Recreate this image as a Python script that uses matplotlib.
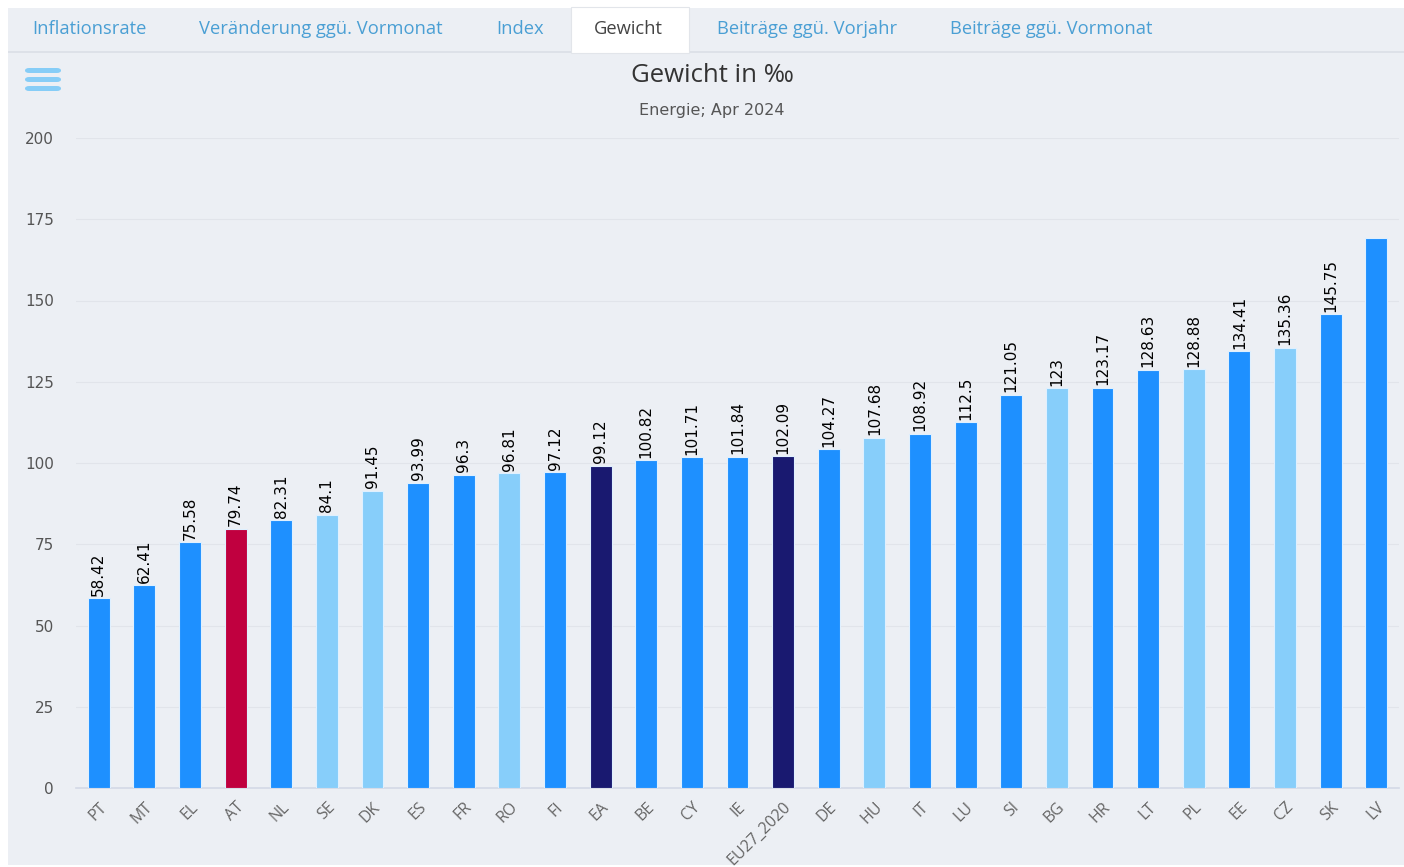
import matplotlib
matplotlib.use("Agg")
import matplotlib.pyplot as plt
from matplotlib.patches import Rectangle, FancyBboxPatch

plt.rcParams['font.family'] = ['Open Sans', 'DejaVu Sans']

countries = ["PT", "MT", "EL", "AT", "NL", "SE", "DK", "ES", "FR", "RO", "FI", "EA", "BE", "CY", "IE",
             "EU27_2020", "DE", "HU", "IT", "LU", "SI", "BG", "HR", "LT", "PL", "EE", "CZ", "SK", "LV"]
values = [58.42, 62.41, 75.58, 79.74, 82.31, 84.1, 91.45, 93.99, 96.3, 96.81, 97.12, 99.12, 100.82, 101.71,
          101.84, 102.09, 104.27, 107.68, 108.92, 112.5, 121.05, 123, 123.17, 128.63, 128.88, 134.41,
          135.36, 145.75, 169.3]
labels = ["58.42", "62.41", "75.58", "79.74", "82.31", "84.1", "91.45", "93.99", "96.3", "96.81", "97.12",
          "99.12", "100.82", "101.71", "101.84", "102.09", "104.27", "107.68", "108.92", "112.5", "121.05",
          "123", "123.17", "128.63", "128.88", "134.41", "135.36", "145.75", ""]
groups = ["b", "b", "b", "r", "b", "l", "l", "b", "b", "l", "b", "n", "b", "b", "b",
          "n", "b", "l", "b", "b", "b", "l", "b", "b", "l", "b", "l", "b", "b"]
yticks = [0, 25, 50, 75, 100, 125, 150, 175, 200]
tabs = ["Inflationsrate", "Veränderung ggü. Vormonat", "Index", "Gewicht",
        "Beiträge ggü. Vorjahr", "Beiträge ggü. Vormonat"]
tab_x = [32, 199, 496, 594, 717, 950]

palette = {"b": "#1e90ff", "l": "#87cefa", "n": "#191970", "r": "#c0003f"}
W, H = 1404, 867
fig = plt.figure(figsize=(W / 100, H / 100), dpi=100)
fig.patch.set_facecolor("white")

def px(x, y, w, h):
    return (x / W, 1 - (y + h) / H, w / W, h / H)

bg = "#eceff4"
x0, y0, w0, h0 = px(8, 8, W - 8, 44)
fig.patches.append(Rectangle((x0, y0), w0, h0, transform=fig.transFigure, facecolor=bg, edgecolor="none", zorder=-3))
x0, y0, w0, h0 = px(8, 53, W - 8, 812)
fig.patches.append(Rectangle((x0, y0), w0, h0, transform=fig.transFigure, facecolor=bg, edgecolor="none", zorder=-3))
x0, y0, w0, h0 = px(8, 51, W - 8, 2)
fig.patches.append(Rectangle((x0, y0), w0, h0, transform=fig.transFigure, facecolor="#dde1e8", edgecolor="none", zorder=-2))
x0, y0, w0, h0 = px(571, 7, 118, 46)
fig.patches.append(Rectangle((x0, y0), w0, h0, transform=fig.transFigure, facecolor="white", edgecolor="#e2e5ea", lw=0.8, zorder=-1))

for t, x in zip(tabs, tab_x):
    col = "#444444" if t == "Gewicht" else "#4a9fd4"
    fig.text(x / W, 1 - 29 / H, t, ha="left", va="center", fontsize=13.2, color=col)

for yy in [68, 77, 86]:
    x0, y0, w0, h0 = px(25, yy, 36, 5)
    fig.patches.append(FancyBboxPatch((x0, y0), w0, h0, boxstyle="round,pad=0,rounding_size=0.003",
                                      transform=fig.transFigure, facecolor="#86cdf7", edgecolor="none", zorder=-1))

fig.text(712 / W, 1 - 75 / H, "Gewicht in ‰", ha="center", va="center", fontsize=18.5, color="#333333")
fig.text(712 / W, 1 - 110 / H, "Energie; Apr 2024", ha="center", va="center", fontsize=11.5, color="#555555",
         family=["DejaVu Sans"])

ax = fig.add_axes([76 / W, 1 - 788 / H, (1399 - 76) / W, (788 - 138) / H])
ax.set_zorder(5)
ax.set_facecolor("none")
xs = list(range(len(countries)))
ax.bar(xs, values, width=0.48, color=[palette[g] for g in groups], edgecolor="#dff0ff", linewidth=0.8, zorder=3)
for x, v, lab in zip(xs, values, labels):
    if lab:
        ax.text(x, v + 0.8, lab, rotation=90, ha="center", va="bottom", fontsize=11, color="black", zorder=4,
                family=["Liberation Sans Narrow", "DejaVu Sans"])

ax.set_xlim(-0.5, len(countries) - 0.5)
ax.set_ylim(0, 200)
ax.set_yticks(yticks)
ax.set_yticklabels([str(t) for t in yticks], fontsize=11, color="#555555", family=["DejaVu Sans"])
ax.set_xticks(xs)
ax.set_xticklabels(countries, rotation=45, ha="right", rotation_mode="anchor", fontsize=11.5, color="#666666")
ax.tick_params(axis="both", length=0)
ax.tick_params(axis="y", pad=16)
ax.tick_params(axis="x", pad=8)
ax.grid(axis="y", color="#e1e4ea", linewidth=0.8, zorder=0)
for s in ["top", "right", "left"]:
    ax.spines[s].set_visible(False)
ax.spines["bottom"].set_color("#d3d9e6")
ax.spines["bottom"].set_linewidth(1.2)

fig.savefig("out.png", dpi=100, facecolor=fig.get_facecolor())
